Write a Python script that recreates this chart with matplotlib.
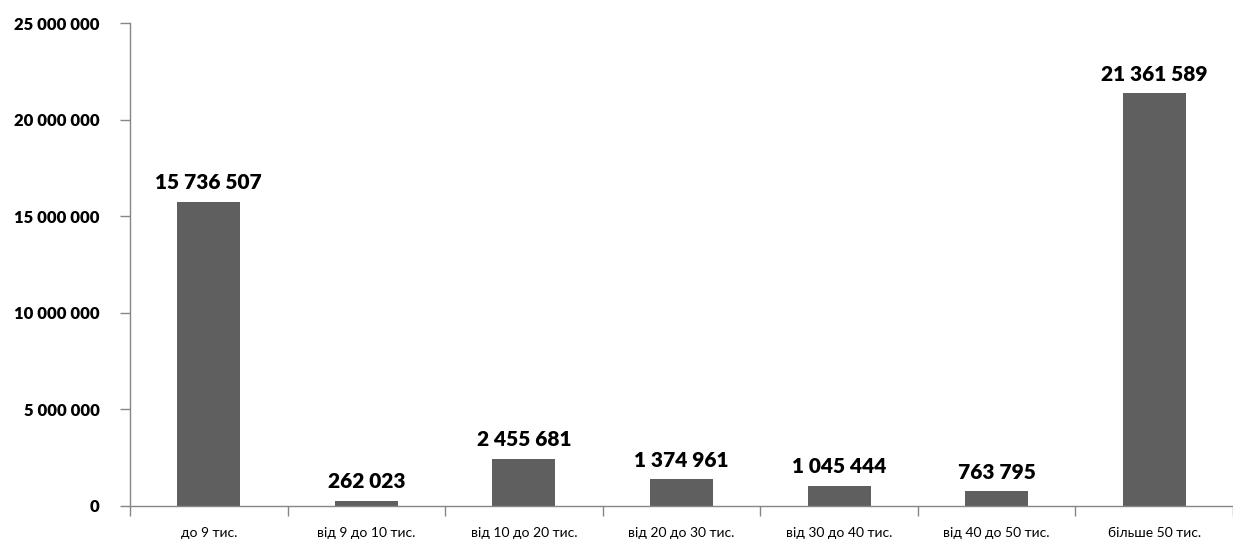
import matplotlib.pyplot as plt
from matplotlib.ticker import FuncFormatter, MultipleLocator
import numpy as np

categories = ['до 9 тис.', 'від 9 до 10 тис.', 'від 10 до 20 тис.', 'від 20 до 30 тис.',
              'від 30 до 40 тис.', 'від 40 до 50 тис.', 'більше 50 тис.']
values = [15736507, 262023, 2455681, 1374961, 1045444, 763795, 21361589]


def spaced(v, pos=None):
    return f'{int(v):,}'.replace(',', ' ')


plt.rcParams['font.family'] = ['Lato', 'DejaVu Sans']

fig = plt.figure(figsize=(12.33, 5.4), dpi=100)
ax = fig.add_axes([0.1055, 0.063, 0.8945, 0.894])

x = np.arange(len(categories))
ax.bar(x, values, width=0.4, color='#5f5f5f', zorder=2)

for xi, v in zip(x, values):
    ax.text(xi, v + 500000, spaced(v), ha='center', va='bottom',
            fontsize=15, fontweight='heavy', color='black')

ax.set_xlim(-0.5, len(categories) - 0.5)
ax.set_ylim(0, 25000000)
ax.yaxis.set_major_locator(MultipleLocator(5000000))
ax.yaxis.set_major_formatter(FuncFormatter(spaced))

# category labels centred, ticks at the boundaries
ax.set_xticks(x)
ax.set_xticklabels(categories, fontsize=10)
ax.set_xticks(np.arange(-0.5, len(categories)), minor=True)
ax.tick_params(axis='x', which='major', length=0, pad=15)
ax.tick_params(axis='x', which='minor', length=7, color='#868686', width=1)
ax.tick_params(axis='y', length=7, color='#868686', width=1, pad=15)
for lbl in ax.get_yticklabels():
    lbl.set_fontweight('heavy')
    lbl.set_fontsize(12)

for side in ['top', 'right']:
    ax.spines[side].set_visible(False)
for side in ['left', 'bottom']:
    ax.spines[side].set_color('#868686')
    ax.spines[side].set_linewidth(1)

fig.savefig('out.png', dpi=100, facecolor='white')
